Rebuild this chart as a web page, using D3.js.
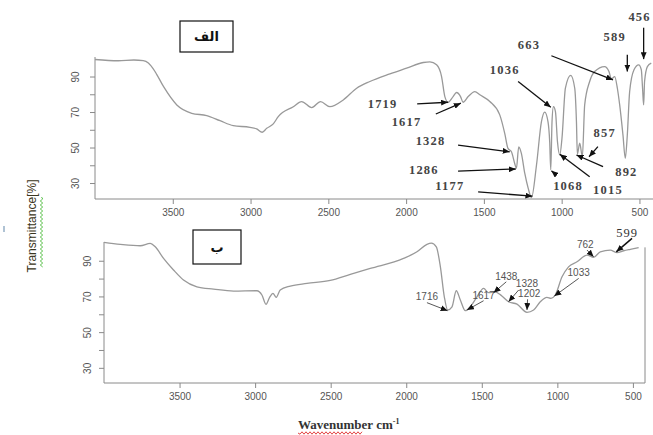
<!DOCTYPE html>
<html>
<head>
<meta charset="utf-8">
<script src="https://cdn.jsdelivr.net/npm/d3@7"></script>
<style>
  html, body { margin: 0; padding: 0; background: #fff; }
  svg { display: block; }
  .tick text { font-family: "Liberation Sans", Arial, sans-serif; font-size: 10px; fill: #555; }
  .tick line, .domain { stroke: #8a8a8a; }
</style>
</head>
<body>
<div id="chart"></div>
<script>
// FTIR spectra, panel "الف" (top) and panel "ب" (bottom)
const xTicks = [3500, 3000, 2500, 2000, 1500, 1000, 500];
const yTicks = [30, 40, 50, 60, 70, 80, 90];
const yTickLabels = [30, 50, 70, 90];

const topWavenumber = [4000, 3850, 3750, 3690, 3657, 3614, 3560, 3474, 3378, 3282, 3196, 3111, 3004, 2961, 2925,
  2896, 2854, 2822, 2725, 2672, 2607, 2550, 2490, 2404, 2318, 2233, 2104, 1997, 1890, 1847, 1804, 1772, 1751,
  1730, 1698, 1676, 1650, 1634, 1601, 1558, 1526, 1462, 1398, 1366, 1345, 1323, 1302, 1291, 1276, 1259, 1237,
  1215, 1194, 1162, 1130, 1109, 1088, 1077, 1070, 1062, 1053, 1040, 1027, 1012, 998, 976, 942, 916, 905, 899,
  884, 867, 852, 820, 788, 724, 696, 680, 659, 642, 627, 606, 591, 578, 563, 535, 505, 488, 480, 473, 467, 449, 424];
const topTransmittance = [99.6, 98.9, 99.3, 98.9, 97.6, 92.8, 84.4, 74, 69.3, 68, 65.1, 62.3, 61.4, 60.5, 58.6,
  60.8, 63.3, 67.4, 73, 75.9, 72.5, 75.9, 73, 76.8, 83.4, 87.2, 91.5, 94.7, 97.9, 98.3, 96.6, 90, 78.7,
  75.5, 78.7, 81, 78.7, 75.5, 78.7, 81.5, 79.7, 75.9, 68.4, 58, 49.5, 47.6, 41, 38.2, 50.4, 46.7, 35.4,
  27, 21.8, 40, 64.6, 69.9, 64.6, 53.3, 37.5, 64.6, 73, 70.2, 53.3, 45.8, 55.2, 83.4, 90.6, 83.4, 64.6, 46.2,
  52.4, 44.8, 74, 87.2, 92.8, 95.6, 92.8, 88.7, 90, 83.4, 74, 57.1, 43.9, 57.1, 81.5, 93.8, 96.6, 93.8, 83.4, 74, 87.2, 95.6, 97.6];

const bottomWavenumber = [4000, 3892, 3760, 3694, 3661, 3606, 3540, 3474, 3385, 3275, 3143, 2988, 2955, 2928, 2904,
  2882, 2860, 2834, 2767, 2657, 2503, 2370, 2238, 2018, 1929, 1863, 1834, 1801, 1774, 1748, 1726, 1697, 1669,
  1642, 1609, 1576, 1532, 1488, 1455, 1411, 1367, 1323, 1267, 1201, 1157, 1113, 1069, 1042, 1014, 969, 926,
  870, 804, 760, 716, 650, 605, 561, 517, 462];
const bottomTransmittance = [100.3, 99.2, 98.4, 99.7, 97.8, 91.3, 84.8, 79.2, 75.4, 74.1, 73, 73.2, 70.8, 65.6, 69.5,
  71.7, 69.5, 73.6, 75.8, 77.3, 79, 82.4, 85.7, 91.3, 95, 99.2, 99.9, 97.8, 86.6, 69.8, 62.4, 64.2, 73.2,
  68, 62, 64.2, 69.8, 74.5, 72.1, 72.6, 70.2, 67, 65.7, 61.1, 62.4, 67, 69.5, 68.9, 70.8, 81, 86.6,
  89.4, 93.2, 91.9, 95, 96, 94.5, 95.6, 96.4, 97.3];

// peak annotations: label, label anchor, arrow start, arrow end (wavenumber, %T)
const topPeaks = [
  ["1719", [2151, 74.6], [1929, 74.6], [1730, 75.5]],
  ["1617", [1997, 64.6], [1809, 68.9], [1648, 75]],
  ["1328", [1843, 53.8], [1666, 51.4], [1334, 47.6]],
  ["1286", [1886, 37.3], [1666, 36.7], [1295, 37.9]],
  ["1177", [1719, 28.2], [1537, 25], [1188, 22.6]],
  ["1036", [1366, 93.8], [1280, 87.2], [1070, 72.7]],
  ["663", [1210, 107.9], [1066, 101.7], [670, 88.1]],
  ["589", [659, 112], [578, 102.3], [578, 92.8]],
  ["456", [499, 123.6], [473, 117.5], [473, 99.8]],
  ["857", [723, 58], [767, 50.5], [824, 44.8]],
  ["892", [584, 36.3], [734, 39.2], [905, 45.8]],
  ["1015", [702, 26], [820, 33.5], [1012, 46.2]],
  ["1068", [959, 28.2], [1034, 34.5], [1066, 36.9]]
];
const bottomPeaks = [
  ["1716", [1863, 70.2], [1863, 66.5], [1726, 62]],
  ["1617", [1488, 70.8], [1488, 67.6], [1598, 62.4]],
  ["1438", [1338, 81], [1338, 78.2], [1422, 72.1]],
  ["1328", [1201, 77], [1256, 73.6], [1323, 67]],
  ["1202", [1186, 71.7], [1197, 68.4], [1201, 62.4]],
  ["1033", [859, 83.5], [859, 80.1], [1020, 70.2]],
  ["762", [815, 99.2], [804, 96], [760, 92.2]]
];
const bottomPeakSerif = [["599", [539, 105.4], [506, 102.5], [610, 95]]];

const width = 653, height = 435;

const svg = d3.select('#chart')
  .append('svg')
  .attr('width', width)
  .attr('height', height);

svg.append('defs').append('marker')
  .attr('id', 'head')
  .attr('markerUnits', 'userSpaceOnUse')
  .attr('markerWidth', 7)
  .attr('markerHeight', 6)
  .attr('refX', 7)
  .attr('refY', 3)
  .attr('orient', 'auto')
  .append('path')
  .attr('d', 'M0,0 L7,3 L0,6 Z')
  .attr('fill', '#111');

function drawPanel(cfg) {
  const x = d3.scaleLinear().domain([4000, cfg.xEnd]).range(cfg.xRange);
  const y = d3.scaleLinear().domain([cfg.yMin, cfg.yMax]).range(cfg.yRange);
  const g = svg.append('g');

  // x axis
  g.append('g')
    .attr('transform', `translate(0,${cfg.yRange[0]})`)
    .call(d3.axisBottom(x).tickValues(xTicks).tickFormat(d3.format('d')).tickSize(5).tickPadding(5))
    .call(a => a.select('.domain').attr('d', `M${cfg.xRange[0]},0H${cfg.xRange[1]}`));

  // y axis, R style vertical labels
  g.append('g')
    .attr('transform', `translate(${cfg.xRange[0]},0)`)
    .call(d3.axisLeft(y).tickValues(yTicks).tickSize(5)
      .tickFormat(d => yTickLabels.includes(d) ? d : ''))
    .call(a => a.select('.domain').attr('d', `M0,${cfg.yRange[1]}V${cfg.yRange[0]}`))
    .call(a => a.selectAll('.tick text')
      .attr('transform', 'rotate(-90)')
      .attr('x', 0)
      .attr('y', -cfg.labelGap)
      .attr('dy', '0.35em')
      .attr('text-anchor', 'middle'));

  if (cfg.rightBorder) {
    g.append('line')
      .attr('x1', x(cfg.xEnd)).attr('x2', x(cfg.xEnd))
      .attr('y1', y(cfg.rightBorder)).attr('y2', cfg.yRange[0])
      .attr('stroke', '#8a8a8a');
  }

  const line = d3.line()
    .x((d, i) => x(cfg.wn[i]))
    .y(d => y(d))
    .curve(d3.curveMonotoneX);

  g.append('path')
    .datum(cfg.tr)
    .attr('fill', 'none')
    .attr('stroke', '#999')
    .attr('stroke-width', 1.3)
    .attr('d', line);

  // annotation arrows + labels
  cfg.peaks.forEach(p => {
    g.append('line')
      .attr('x1', x(p[2][0])).attr('y1', y(p[2][1]))
      .attr('x2', x(p[3][0])).attr('y2', y(p[3][1]))
      .attr('stroke', cfg.arrowColor)
      .attr('stroke-width', cfg.arrowWidth)
      .attr('marker-end', 'url(#head)');
    g.append('text')
      .attr('x', x(p[1][0]))
      .attr('y', y(p[1][1]))
      .attr('text-anchor', 'middle')
      .attr('dominant-baseline', 'central')
      .attr('font-family', cfg.labelFont)
      .attr('font-size', cfg.labelSize)
      .attr('font-weight', cfg.labelWeight)
      .attr('letter-spacing', cfg.labelSpacing)
      .attr('fill', cfg.labelColor)
      .text(p[0]);
  });

  // panel tag box
  g.append('rect')
    .attr('x', cfg.box[0]).attr('y', cfg.box[1])
    .attr('width', cfg.box[2]).attr('height', cfg.box[3])
    .attr('fill', '#fff')
    .attr('stroke', '#111')
    .attr('stroke-width', 1.2);
  g.append('text')
    .attr('x', cfg.box[0] + cfg.box[2] / 2)
    .attr('y', cfg.box[1] + cfg.box[3] / 2)
    .attr('text-anchor', 'middle')
    .attr('dominant-baseline', 'central')
    .attr('font-family', '"DejaVu Sans", sans-serif')
    .attr('font-size', 13)
    .attr('font-weight', 'bold')
    .attr('fill', '#111')
    .text(cfg.tag);

  return { x, y, g };
}

const serifLabel = {
  labelFont: '"Liberation Serif", "DejaVu Serif", serif',
  labelSize: 12.5,
  labelWeight: 'bold',
  labelSpacing: 1.2,
  labelColor: '#444',
  arrowColor: '#111',
  arrowWidth: 1.3
};

drawPanel(Object.assign({
  wn: topWavenumber, tr: topTransmittance, peaks: topPeaks,
  xEnd: 400, xRange: [95, 655], yMin: 21, yMax: 101, yRange: [199, 57],
  labelGap: 20, tag: 'الف', box: [180, 21, 53, 31]
}, serifLabel));

const bottom = drawPanel({
  wn: bottomWavenumber, tr: bottomTransmittance, peaks: bottomPeaks,
  xEnd: 420, xRange: [104, 645], yMin: 21.5, yMax: 100.5, yRange: [383, 242],
  labelGap: 17, tag: 'ب', box: [193, 230, 48, 34], rightBorder: 97.5,
  labelFont: '"Liberation Sans", Arial, sans-serif', labelSize: 10, labelWeight: 'normal',
  labelSpacing: 0, labelColor: '#555', arrowColor: '#444', arrowWidth: 0.9
});

// 599 label is set in the serif style
bottomPeakSerif.forEach(p => {
  bottom.g.append('line')
    .attr('x1', bottom.x(p[2][0])).attr('y1', bottom.y(p[2][1]))
    .attr('x2', bottom.x(p[3][0])).attr('y2', bottom.y(p[3][1]))
    .attr('stroke', '#111').attr('stroke-width', 1.5)
    .attr('marker-end', 'url(#head)');
  bottom.g.append('text')
    .attr('x', bottom.x(p[1][0])).attr('y', bottom.y(p[1][1]))
    .attr('text-anchor', 'middle').attr('dominant-baseline', 'central')
    .attr('font-family', serifLabel.labelFont).attr('font-size', 12.5)
    .attr('letter-spacing', 1).attr('fill', '#333')
    .text(p[0]);
});

// y label with spell-check squiggle
svg.append('text')
  .attr('transform', 'translate(36,226) rotate(-90)')
  .attr('text-anchor', 'middle')
  .attr('font-family', '"Liberation Sans", Arial, sans-serif')
  .attr('font-size', 12)
  .attr('fill', '#3a3520')
  .text('Transmittance[%]');

function squiggle(x0, y0, len, vertical, color) {
  let d = `M${vertical ? y0 : x0},${vertical ? x0 : y0}`;
  for (let i = 1; i <= Math.floor(len / 2); i++) {
    const a = x0 + i * 2, b = y0 + (i % 2 ? 1.2 : -1.2);
    d += vertical ? `L${b},${a}` : `L${a},${b}`;
  }
  svg.append('path').attr('d', d).attr('fill', 'none')
    .attr('stroke', color).attr('stroke-width', 0.9);
}
squiggle(197, 41.5, 71, true, '#4cbb3c');

svg.append('line')
  .attr('x1', 4).attr('x2', 4).attr('y1', 226).attr('y2', 232)
  .attr('stroke', '#7a9ab8').attr('stroke-width', 1.2);

// x label
const xl = svg.append('text')
  .attr('x', 298)
  .attr('y', 429)
  .attr('font-family', '"Liberation Serif", "DejaVu Serif", serif')
  .attr('font-size', 13)
  .attr('font-weight', 'bold')
  .attr('fill', '#333');
xl.append('tspan').text('Wavenumber cm');
xl.append('tspan').attr('dy', -5).attr('font-size', 8).text('-1');
squiggle(298, 433, 64, false, '#e03030');
</script>
</body>
</html>
